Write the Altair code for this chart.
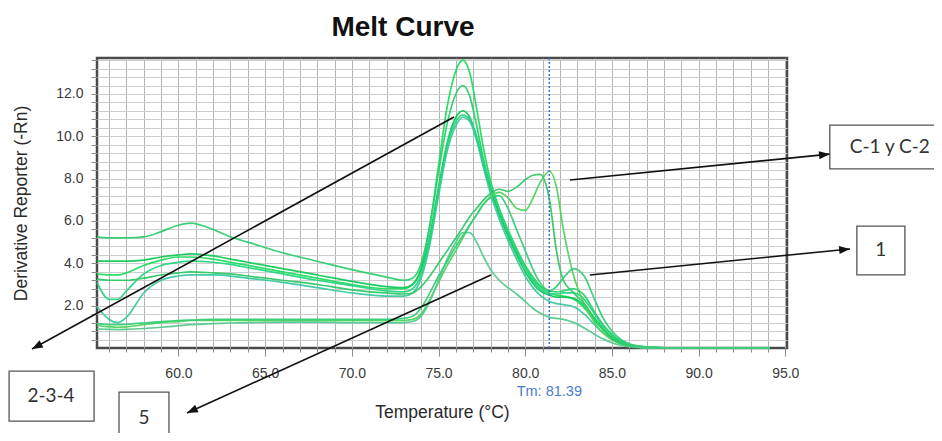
import altair as alt
import pandas as pd

# ---------------- data ----------------
TEMPS = [55.3, 56, 56.5, 57, 58, 59, 60, 60.7, 62, 63, 64, 66, 68, 70, 72, 73, 73.5, 74,
         74.5, 75, 75.5, 76, 76.4, 76.8, 77.2, 77.6, 78, 78.5, 79, 79.5, 80, 80.4, 80.85,
         81.4, 81.8, 82.2, 82.8, 83.4, 84, 84.5, 85, 85.5, 86, 87, 88, 90, 92, 94.1]

A1 = [3.5, 3.45, 3.45, 3.55, 3.9, 4.15, 4.3, 4.3, 4.2, 4.05, 3.9, 3.6, 3.3, 3.0, 2.8, 2.8, 3.0, 3.8,
      5.8, 8.6, 11.4, 13.1, 13.6, 13.0, 11.3, 9.4, 7.9, 6.6, 5.6, 4.7, 3.9, 3.4, 2.95,
      2.6, 2.5, 2.45, 2.3, 1.9, 1.3, 0.85, 0.5, 0.28, 0.15, 0.04, 0.01, 0, 0, 0]
A2 = [5.25, 5.2, 5.2, 5.2, 5.25, 5.5, 5.8, 5.9, 5.6, 5.25, 5.0, 4.5, 4.1, 3.7, 3.35, 3.2, 3.3, 4.0,
      5.8, 8.3, 10.6, 12.0, 12.4, 11.9, 10.5, 8.9, 7.6, 6.4, 5.4, 4.5, 3.8, 3.3, 2.9,
      2.7, 2.65, 2.7, 2.8, 2.5, 1.7, 1.1, 0.65, 0.35, 0.18, 0.05, 0.01, 0, 0, 0]
A3 = [4.1, 4.1, 4.1, 4.1, 4.15, 4.3, 4.4, 4.45, 4.35, 4.2, 4.05, 3.75, 3.45, 3.15, 2.9, 2.85, 3.0, 3.7,
      5.3, 7.6, 9.7, 10.9, 11.2, 10.9, 9.9, 8.6, 7.5, 6.3, 5.3, 4.4, 3.6, 3.1, 2.7,
      2.5, 2.4, 2.4, 2.35, 2.0, 1.4, 0.9, 0.5, 0.27, 0.13, 0.03, 0, 0, 0, 0]
A4 = [1.95, 1.35, 1.2, 1.45, 2.6, 3.2, 3.4, 3.45, 3.45, 3.4, 3.3, 3.1, 2.85, 2.6, 2.45, 2.45, 2.6, 3.3,
      4.9, 7.2, 9.3, 10.5, 10.9, 10.7, 9.8, 8.5, 7.3, 6.1, 5.1, 4.2, 3.4, 2.9, 2.5,
      2.2, 2.1, 2.05, 1.95, 1.6, 1.1, 0.7, 0.4, 0.2, 0.1, 0.02, 0, 0, 0, 0]
A5 = [3.1, 2.3, 2.3, 2.7, 3.5, 3.9, 4.05, 4.1, 4.05, 3.95, 3.8, 3.5, 3.2, 2.95, 2.7, 2.65, 2.8, 3.5,
      5.1, 7.4, 9.5, 10.7, 11.0, 10.8, 10.0, 8.8, 7.7, 6.5, 5.5, 4.6, 3.8, 3.2, 2.8,
      2.55, 2.55, 2.6, 2.6, 2.3, 1.6, 1.0, 0.6, 0.32, 0.16, 0.04, 0.01, 0, 0, 0]
C1 = [1.05, 1.0, 0.98, 1.0, 1.1, 1.2, 1.25, 1.3, 1.3, 1.3, 1.3, 1.3, 1.3, 1.3, 1.3, 1.3, 1.35, 1.6,
      2.3, 3.1, 3.9, 4.6, 5.2, 5.8, 6.3, 6.8, 7.15, 7.35, 7.1, 6.6, 6.5, 7.0, 7.8,
      8.35, 7.6, 5.6, 3.4, 2.1, 1.2, 0.7, 0.4, 0.2, 0.1, 0.02, 0, 0, 0, 0]
C2 = [3.25, 3.2, 3.2, 3.2, 3.3, 3.45, 3.55, 3.6, 3.55, 3.5, 3.4, 3.2, 3.0, 2.75, 2.6, 2.55, 2.6, 2.9,
      3.4, 4.0, 4.6, 5.2, 5.7, 6.2, 6.6, 7.0, 7.3, 7.5, 7.4, 7.6, 7.95, 8.15, 8.2,
      7.0, 4.6, 3.2, 2.6, 2.1, 1.4, 0.85, 0.45, 0.22, 0.1, 0.02, 0, 0, 0, 0]
S5 = [0.9, 0.88, 0.87, 0.88, 0.92, 0.98, 1.05, 1.1, 1.15, 1.18, 1.2, 1.22, 1.22, 1.2, 1.2, 1.2, 1.25, 1.5,
      2.2, 3.2, 4.2, 5.0, 5.45, 5.45, 5.0, 4.3, 3.7, 3.2, 2.85, 2.55, 2.2, 1.9, 1.65,
      1.45, 1.4, 1.35, 1.2, 0.95, 0.65, 0.42, 0.25, 0.13, 0.06, 0.01, 0, 0, 0, 0]
S1 = [1.15, 1.1, 1.1, 1.12, 1.18, 1.25, 1.3, 1.32, 1.35, 1.35, 1.35, 1.35, 1.35, 1.35, 1.35, 1.4, 1.5, 1.9,
      2.6, 3.4, 4.1, 4.8, 5.3, 5.8, 6.3, 6.8, 7.1, 7.2, 6.6, 5.6, 4.6, 3.8, 3.1,
      2.7, 2.9, 3.3, 3.75, 3.4, 2.3, 1.4, 0.8, 0.42, 0.2, 0.05, 0.01, 0, 0, 0]

CURVE_NAMES = ["A1", "A2", "A3", "A4", "A5", "C1", "C2", "S5", "S1"]
CURVE_VALUES = [A1, A2, A3, A4, A5, C1, C2, S5, S1]
CURVE_COLORS = ["#1fdc5e", "#2ecf6e", "#14c85a", "#3cc8a0", "#25d57e",
                "#4fd45a", "#2fc866", "#52c98c", "#35cd78"]

TM = 81.39
TM_LABEL = "Tm: 81.39"
TM_LABEL_V = -2.08

# annotations (in data units)
ARROW_FROM_T = [82.58, 83.73, 75.89, 78.02]
ARROW_FROM_V = [7.94, 3.45, 10.91, 3.45]
ARROW_TO_T = [97.57, 98.73, 51.55, 60.49]
ARROW_TO_V = [9.16, 4.68, -0.05, -3.07]
ARROW_ANGLE = [84.3, 84.3, 241.2, 245.6]

BOX_LABELS = ["C-1 y C-2", "1", "2-3-4", "5"]
BOX_T1 = [97.57, 99.13, 50.23, 56.57]
BOX_T2 = [104.6, 101.9, 55.13, 59.45]
BOX_V1 = [10.53, 5.76, -1.09, -2.08]
BOX_V2 = [8.46, 3.45, -3.45, -4.8]
BOX_TEXT_T = [101.03, 100.51, 52.65, 58.01]
BOX_TEXT_V = [9.49, 4.63, -2.27, -3.31]

X_DOMAIN = [55.3, 95.1]
Y_DOMAIN = [0, 13.7]
X_TICKS = list(range(56, 96))
Y_TICKS = [round(0.4 * k, 1) for k in range(1, 35)]

# ---------------- frames ----------------
rows = []
for name, vals in zip(CURVE_NAMES, CURVE_VALUES):
    for t, v in zip(TEMPS, vals):
        rows.append({"curve": name, "temp": t, "value": v})
df = pd.DataFrame(rows)

arrows = pd.DataFrame({"temp": ARROW_FROM_T, "value": ARROW_FROM_V,
                       "temp2": ARROW_TO_T, "value2": ARROW_TO_V, "angle": ARROW_ANGLE})
heads = pd.DataFrame({"temp": ARROW_TO_T, "value": ARROW_TO_V, "angle": ARROW_ANGLE})
boxes = pd.DataFrame({"temp": BOX_T1, "temp2": BOX_T2, "value": BOX_V1, "value2": BOX_V2})
box_text = pd.DataFrame({"temp": BOX_TEXT_T, "value": BOX_TEXT_V, "label": BOX_LABELS})
tm_df = pd.DataFrame({"temp": [TM]})
tm_text = pd.DataFrame({"temp": [TM], "value": [TM_LABEL_V], "label": [TM_LABEL]})

x_scale = alt.Scale(domain=X_DOMAIN, nice=False, zero=False)
y_scale = alt.Scale(domain=Y_DOMAIN, nice=False, zero=False)

FONT = "Liberation Sans"

x_axis = alt.Axis(
    values=X_TICKS, tickCount=200, labelOverlap=False,
    labelExpr="datum.value % 5 === 0 ? format(datum.value, '.1f') : ''",
    grid=True, gridColor="#b4b4b4", gridWidth=1,
    tickColor="#8a8a8a",
    tickSize={"condition": {"test": "datum.value % 5 === 0", "value": 8}, "value": 4},
    labelPadding=10, labelFont=FONT, labelFontSize=14, labelColor="#3a3a3a",
    title="Temperature (°C)", titleFont=FONT, titleFontSize=17.5, titleFontWeight="normal",
    titleColor="#2a2a2a", titlePadding=23, domain=False,
)
y_axis = alt.Axis(
    values=Y_TICKS, tickCount=200, labelOverlap=False,
    labelExpr="(datum.value % 2 < 0.01 || datum.value % 2 > 1.99) ? format(datum.value, '.1f') : ''",
    grid=True, gridColor="#cdcdcd", gridWidth=1,
    tickColor="#8a8a8a", tickSize=6,
    labelPadding=8, labelFont=FONT, labelFontSize=14, labelColor="#3a3a3a",
    title="Derivative Reporter (-Rn)", titleFont=FONT, titleFontSize=17.5, titleFontWeight="normal",
    titleColor="#2a2a2a", titlePadding=25, domain=False,
)

lines = alt.Chart(df).mark_line(interpolate="monotone", strokeWidth=1.7, opacity=0.95).encode(
    x=alt.X("temp:Q", scale=x_scale, axis=x_axis),
    y=alt.Y("value:Q", scale=y_scale, axis=y_axis),
    color=alt.Color("curve:N", scale=alt.Scale(domain=CURVE_NAMES, range=CURVE_COLORS), legend=None),
    detail="curve:N",
)

tm_rule = alt.Chart(tm_df).mark_rule(color="#3b6fd6", strokeDash=[2, 2], strokeWidth=1.5).encode(
    x=alt.X("temp:Q")
)
tm_lab = alt.Chart(tm_text).mark_text(font=FONT, fontSize=14.5, color="#4a7bd0").encode(
    x="temp:Q", y="value:Q", text="label:N"
)

arrow_lines = alt.Chart(arrows).mark_rule(color="#111111", strokeWidth=1.6).encode(
    x="temp:Q", y="value:Q", x2="temp2:Q", y2="value2:Q"
)
arrow_heads = alt.Chart(heads).mark_point(
    shape="M0,0L-0.45,1.2L0.45,1.2Z", filled=True, size=324, color="#111111", opacity=1
).encode(
    x="temp:Q", y="value:Q", angle=alt.Angle("angle:Q", scale=None)
)
box_rects = alt.Chart(boxes).mark_rect(fill="white", stroke="#555555", strokeWidth=1.3).encode(
    x="temp:Q", x2="temp2:Q", y="value:Q", y2="value2:Q"
)
box_labels = alt.Chart(box_text).mark_text(font="Lato", fontSize=19, color="#333333").encode(
    x="temp:Q", y="value:Q", text="label:N"
)

chart = alt.layer(
    lines, tm_rule, tm_lab, arrow_lines, box_rects, box_labels, arrow_heads
).properties(
    width=690, height=290,
    title=alt.TitleParams("Melt Curve", font=FONT, fontSize=28, fontWeight="bold",
                          anchor="middle", dx=-39, dy=5, offset=16, color="#111111"),
    autosize=alt.AutoSizeParams(type="none"),
    padding={"left": 89, "top": 50, "right": 147, "bottom": 85},
).configure_view(
    stroke="#4a4a4a", strokeWidth=2.5
)

chart.save("out.html", embed_options={"renderer": "svg", "actions": False})
